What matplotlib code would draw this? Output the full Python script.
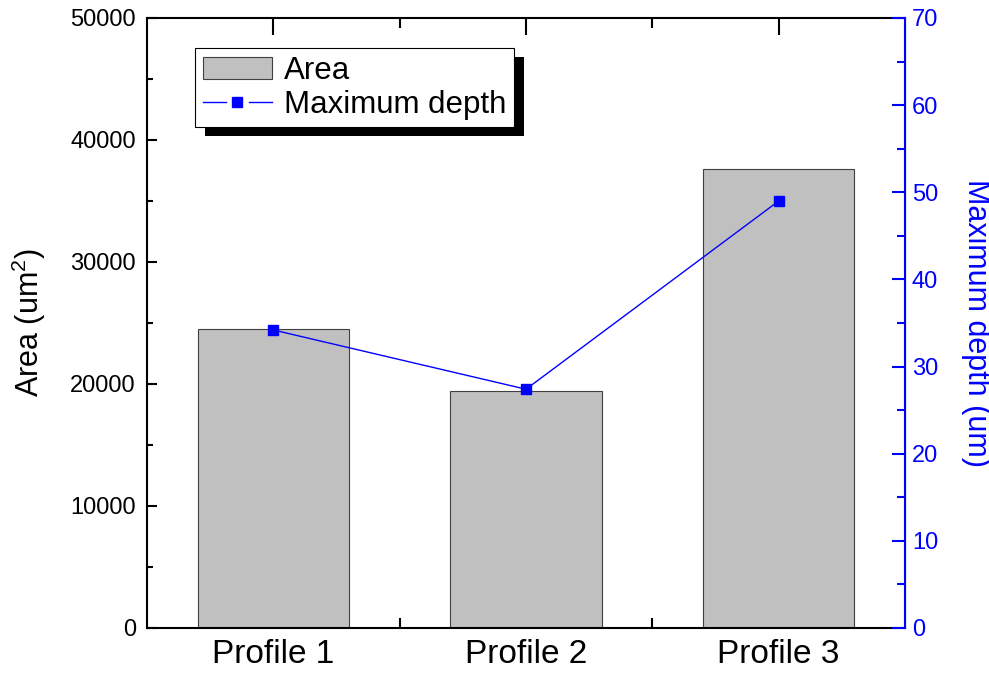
import matplotlib

matplotlib.use("Agg")
import matplotlib.pyplot as plt
from matplotlib.legend_handler import HandlerBase
from matplotlib.lines import Line2D
from matplotlib.patches import Rectangle
from matplotlib.ticker import MultipleLocator, FixedLocator

plt.rcParams["font.family"] = ["Liberation Sans", "DejaVu Sans"]
plt.rcParams["mathtext.fontset"] = "custom"
plt.rcParams["mathtext.rm"] = "Liberation Sans"

# Values
profiles = ["Profile 1", "Profile 2", "Profile 3"]
area = [24500, 19400, 37600]          # um^2
max_depth = [34.2, 27.4, 49.0]         # um

BLUE = "#0000ff"
x = list(range(1, len(profiles) + 1))


class BrokenLineHandler(HandlerBase):
    """Legend entry drawn as '— ■ —' (line interrupted around the marker)."""

    def create_artists(self, legend, orig_handle, xdescent, ydescent,
                       width, height, fontsize, trans):
        y = height / 2 - ydescent
        x0 = -xdescent
        x1 = x0 + width
        xm = x0 + width / 2
        gap = width * 0.17
        style = dict(color=orig_handle.get_color(), linewidth=1, transform=trans)
        left = Line2D([x0, xm - gap], [y, y], **style)
        right = Line2D([xm + gap, x1], [y, y], **style)
        mark = Line2D([xm], [y], marker="s", markersize=orig_handle.get_markersize(),
                      linestyle="none", **style)
        return [left, right, mark]


fig = plt.figure(figsize=(9.89, 6.74), dpi=100)
ax = fig.add_axes([147 / 989, 1 - 628 / 674, 758 / 989, 610 / 674])

bars = ax.bar(x, area, width=0.6, color="#c0c0c0", edgecolor="#404040",
              linewidth=0.8, label="Area", zorder=2)
ax.set_xlim(0.5, 3.5)
ax.set_ylim(0, 50000)
ax.set_xticks(x)
ax.set_xticklabels(profiles, fontsize=24)
ax.xaxis.set_minor_locator(FixedLocator([1.5, 2.5]))
ax.yaxis.set_major_locator(MultipleLocator(10000))
ax.yaxis.set_minor_locator(MultipleLocator(5000))
ax.set_ylabel("Area (um$^2$)", fontsize=22, labelpad=16)

ax.tick_params(axis="x", which="major", direction="in", length=12, width=1.5,
               top=True, bottom=True, pad=8)
ax.tick_params(axis="x", which="minor", direction="in", length=7, width=1.5,
               top=True, bottom=True)
ax.tick_params(axis="y", which="major", direction="in", length=7, width=1.5,
               labelsize=17, pad=8, right=False)
ax.tick_params(axis="y", which="minor", direction="in", length=4, width=1.5,
               right=False)
for side in ["left", "bottom", "top"]:
    ax.spines[side].set_linewidth(1.5)

ax2 = ax.twinx()
(depth_line,) = ax2.plot(x, max_depth, "-s", color=BLUE, linewidth=1,
                         markersize=7.5, zorder=3)
ax2.set_ylim(0, 70)
ax2.yaxis.set_major_locator(MultipleLocator(10))
ax2.yaxis.set_minor_locator(MultipleLocator(5))
ax2.tick_params(axis="y", which="major", direction="in", length=9.5, width=1.5,
                colors=BLUE, labelsize=17, pad=5)
ax2.tick_params(axis="y", which="minor", direction="in", length=5.5, width=1.5,
                colors=BLUE)
ax2.spines["right"].set_color(BLUE)
ax2.spines["right"].set_linewidth(1.5)
for side in ["left", "bottom", "top"]:
    ax2.spines[side].set_visible(False)
ax2.set_ylabel("Maximum depth (um)", fontsize=22, color=BLUE,
               rotation=270, va="bottom", labelpad=16)

leg = ax2.legend([bars, depth_line], ["Area", "Maximum depth"],
                 handler_map={depth_line: BrokenLineHandler()},
                 loc="upper left", bbox_to_anchor=(48 / 758, 580 / 610),
                 borderaxespad=0, fontsize=22.5, fancybox=False,
                 edgecolor="black", framealpha=1, handlelength=2.2,
                 handletextpad=0.4, borderpad=0.25, labelspacing=0.12)
leg.get_frame().set_linewidth(0.8)
leg.set_zorder(6)

# Solid black drop shadow behind the legend box
fig.canvas.draw()
bb = leg.get_window_extent()
shadow = Rectangle((bb.x0 + 10, bb.y0 - 9), bb.width, bb.height,
                   transform=None, facecolor="black", edgecolor="none",
                   zorder=5)
ax2.add_artist(shadow)

fig.savefig("out.png", dpi=100)
